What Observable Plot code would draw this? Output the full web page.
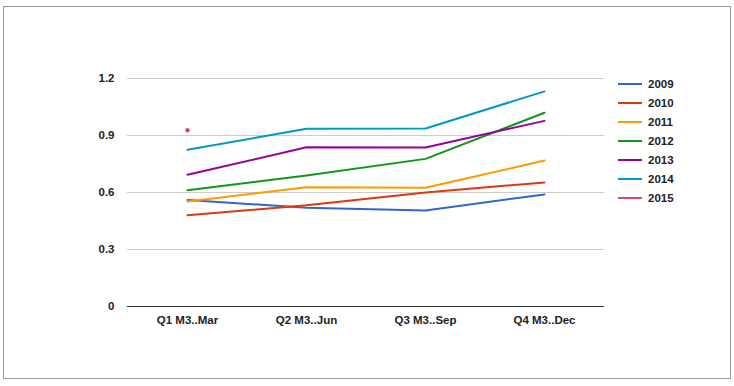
<!DOCTYPE html>
<html><head><meta charset="utf-8">
<script src="https://cdn.jsdelivr.net/npm/d3@7"></script>
<script src="https://cdn.jsdelivr.net/npm/@observablehq/plot@0.6"></script>
<style>
body{margin:0;background:#fff;font-family:"Liberation Sans",Arial,sans-serif;}
#wrap{position:relative;width:734px;height:386px;}
#frame{position:absolute;left:3px;top:6px;width:726px;height:371px;border:1px solid #999;}
#chart{position:absolute;left:0;top:0;}
#legend{position:absolute;left:618px;top:74px;font-size:11.5px;font-weight:bold;color:#222;}
.item{height:19px;display:flex;align-items:center;}
.sw{width:24px;height:2px;margin-right:6px;}
</style></head><body>
<div id="wrap"><div id="frame"></div><div id="chart"></div><div id="legend"></div></div>
<script>
const quarters = ["Q1 M3..Mar","Q2 M3..Jun","Q3 M3..Sep","Q4 M3..Dec"];
const years = ["2009","2010","2011","2012","2013","2014","2015"];
const colors = ["#3366cc","#dc3912","#ff9900","#109618","#990099","#0099c6","#dd4477"];
const v2009 = [0.56,0.52,0.505,0.59];
const v2010 = [0.48,0.533,0.60,0.653];
const v2011 = [0.553,0.628,0.625,0.768];
const v2012 = [0.612,0.69,0.777,1.02];
const v2013 = [0.693,0.838,0.837,0.977];
const v2014 = [0.825,0.935,0.937,1.132];
const v2015 = [0.928,null,null,null];
const yTicks = [0,0.3,0.6,0.9,1.2];
const series = [v2009,v2010,v2011,v2012,v2013,v2014,v2015];
const data = [];
series.forEach((s,i)=>s.forEach((v,j)=>{ if(v!=null) data.push({year:years[i],q:quarters[j],v}); }));
const single = data.filter(d=>d.year==="2015");
const plot = Plot.plot({
  width:734,height:386,
  marginLeft:127,marginRight:130,marginTop:78,marginBottom:80,
  style:{fontFamily:"'Liberation Sans',Arial,sans-serif",fontSize:"11.5px",fontWeight:"bold",color:"#222",background:"transparent"},
  x:{type:"point",domain:quarters,padding:0.5,label:null},
  y:{domain:[0,1.2],ticks:yTicks,label:null},
  color:{domain:years,range:colors},
  marks:[
    Plot.gridY(yTicks.filter(t=>t>0),{stroke:"#ccc",strokeOpacity:1}),
    Plot.ruleY([0],{stroke:"#333",strokeWidth:1}),
    Plot.axisY({ticks:yTicks,tickSize:0,tickPadding:13,tickFormat:d=>d===0?"0":d.toFixed(1),label:null}),
    Plot.axisX({tickSize:0,tickPadding:9,label:null}),
    Plot.line(data.filter(d=>d.year!=="2015"),{x:"q",y:"v",z:"year",stroke:"year",strokeWidth:2}),
    Plot.dot(single,{x:"q",y:"v",fill:"year",r:2.2,stroke:"none"})
  ]
});
document.getElementById("chart").appendChild(plot);
const lg = document.getElementById("legend");
years.forEach((y,i)=>{
  const d=document.createElement("div");d.className="item";
  d.innerHTML=`<span class="sw" style="background:${colors[i]}"></span><span>${y}</span>`;
  lg.appendChild(d);
});
</script>
</body></html>
